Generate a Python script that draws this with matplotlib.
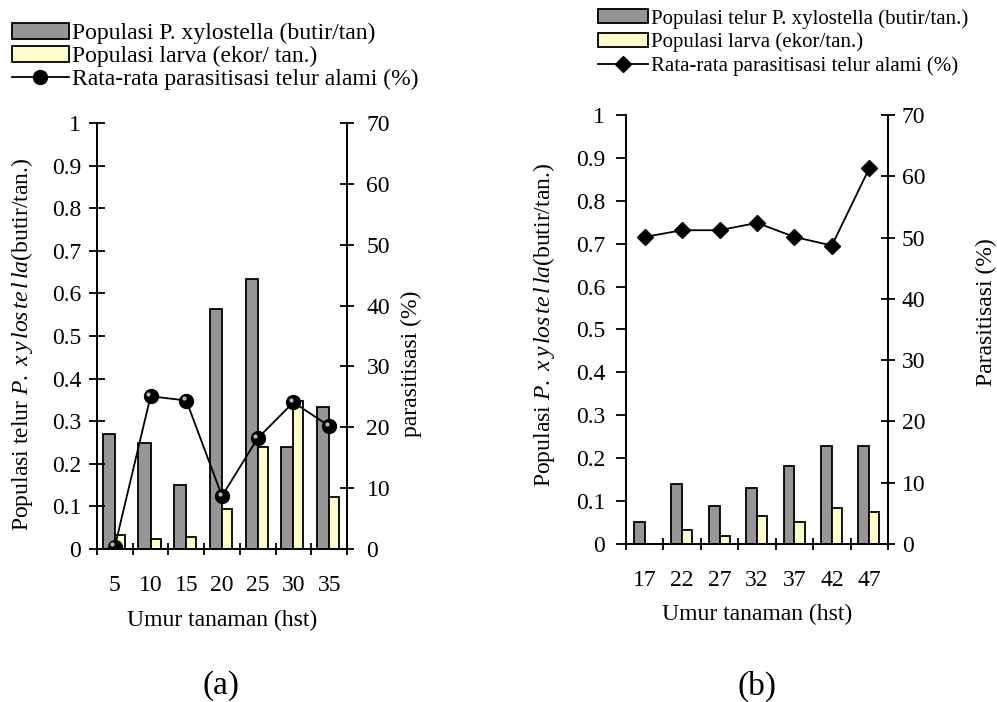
import matplotlib
matplotlib.use('Agg')
import matplotlib.pyplot as plt
import matplotlib.transforms as mtransforms
import numpy as np

plt.rcParams['font.family'] = 'Liberation Serif'
plt.rcParams['mathtext.fontset'] = 'custom'
plt.rcParams['mathtext.rm'] = 'Liberation Serif'
plt.rcParams['mathtext.it'] = 'Liberation Serif:italic'
plt.rcParams['font.size'] = 17

# panel (a)
umurA = ['5', '10', '15', '20', '25', '30', '35']
telurA = [0.27, 0.25, 0.15, 0.563, 0.633, 0.24, 0.334]
larvaA = [0.033, 0.023, 0.028, 0.095, 0.24, 0.347, 0.122]
parasA = [0.4, 25.1, 24.4, 8.7, 18.2, 24.1, 20.2]

# panel (b)
umurB = ['17', '22', '27', '32', '37', '42', '47']
telurB = [0.051, 0.140, 0.088, 0.131, 0.181, 0.228, 0.228]
larvaB = [0.0, 0.032, 0.018, 0.065, 0.051, 0.083, 0.074]
parasB = [50.1, 51.2, 51.2, 52.4, 50.1, 48.7, 61.3]

GRAY = '#969696'
YELLOW = '#FFFFCC'
W, H = 997, 702
FS = 17
# the pdf spreads the italic species name a bit
SPECIES = r'$\mathit{P.\ x\,y\,los\,te\,l\,la}$'


def px(x, y):
    # pixel position -> figure fraction
    return x / W, 1 - y / H


def drawPanel(fig, rect, umur, telur, larva, paras, marker, msize, grayW, yellowW,
              leftTick, rightPad):
    ax = fig.add_axes(rect)
    ax2 = ax.twinx()
    x = np.arange(len(umur))

    barTelur = ax.bar(x - grayW, telur, grayW, align='edge', color=GRAY,
                      edgecolor='black', linewidth=1.3)
    barLarva = ax.bar(x, larva, yellowW, align='edge', color=YELLOW,
                      edgecolor='black', linewidth=1.3)
    line, = ax2.plot(x, paras, color='black', linewidth=1.3, marker=marker,
                     markersize=msize, markerfacecolor='black', markeredgecolor='black')
    if marker == 'o':
        # little shine on the balls, like the excel marker
        shine = mtransforms.offset_copy(ax2.transData, fig=fig, x=-1.8, y=1.8,
                                        units='points')
        ax2.plot(x, paras, linestyle='none', marker='o', markersize=3,
                 markerfacecolor='#bbbbbb', markeredgecolor='none', transform=shine)

    ax.set_xlim(-0.5, len(umur) - 0.5)
    ax.set_ylim(0, 1)
    ax2.set_ylim(0, 70)
    ax.set_yticks(np.arange(0, 1.01, 0.1))
    ax.set_yticklabels(['0'] + ['%.1f' % v for v in np.arange(0.1, 0.95, 0.1)] + ['1'])
    ax2.set_yticks(np.arange(0, 71, 10))

    ax.set_xticks(x)
    ax.set_xticklabels(umur)
    ax.set_xticks(np.arange(len(umur) + 1) - 0.5, minor=True)
    ax.tick_params(axis='x', which='major', length=0, pad=19, labelsize=FS)
    ax.tick_params(axis='x', which='minor', direction='inout', length=9, width=1.3)
    ax.tick_params(axis='y', direction=leftTick[0], length=leftTick[1], width=1.3,
                   pad=leftTick[2], labelsize=FS)
    ax2.tick_params(axis='y', direction='inout', length=10, width=1.3, pad=rightPad,
                    labelsize=FS)

    for a in (ax, ax2):
        a.spines['top'].set_visible(False)
        for s in ('left', 'right', 'bottom'):
            a.spines[s].set_linewidth(1.3)
    return ax, ax2, barTelur, barLarva, line


def addLegend(ax, handles, labels, corner, size, spacing):
    ax.legend(handles, labels, loc='upper left', bbox_to_anchor=px(*corner),
              bbox_transform=ax.figure.transFigure, frameon=False, fontsize=size,
              handlelength=2.4, handleheight=0.65, handletextpad=0.15,
              labelspacing=spacing, borderpad=0, borderaxespad=0)


fig = plt.figure(figsize=(W / 100, H / 100), dpi=100)

# (a)
l, b = px(97, 549)
axA, axA2, bt, bl, ln = drawPanel(fig, [l, b, 250 / W, 426 / H], umurA, telurA, larvaA,
                                  parasA, 'o', 10, 0.34, 0.28, ('inout', 11, 6), 9)
addLegend(axA, [bt, bl, ln], ['Populasi P. xylostella (butir/tan)',
                              'Populasi larva (ekor/ tan.)',
                              'Rata-rata parasitisasi telur alami (%)'], (12, 23), FS, 0.07)
fig.text(*px(22, 344), 'Populasi telur ' + SPECIES + '(butir/tan.)',
         rotation=90, ha='center', va='center', fontsize=FS)
fig.text(*px(411, 364), 'parasitisasi (%)', rotation=90, ha='center', va='center',
         fontsize=FS)
fig.text(*px(222, 620), 'Umur tanaman (hst)', ha='center', va='center', fontsize=FS)
fig.text(*px(221, 686), '(a)', ha='center', va='center', fontsize=24)

# (b)
l, b = px(626, 544)
axB, axB2, bt, bl, ln = drawPanel(fig, [l, b, 262 / W, 429 / H], umurB, telurB, larvaB,
                                  parasB, 'D', 8, 0.29, 0.27, ('out', 7, 8), 5)
addLegend(axB, [bt, bl, ln], ['Populasi telur P. xylostella (butir/tan.)',
                              'Populasi larva (ekor/tan.)',
                              'Rata-rata parasitisasi telur alami (%)'], (598, 9), 15, 0.18)
fig.text(*px(544, 325), 'Populasi ' + SPECIES + '(butir/tan.)',
         rotation=90, ha='center', va='center', fontsize=FS)
fig.text(*px(986, 312), 'Parasitisasi (%)', rotation=90, ha='center', va='center',
         fontsize=FS)
fig.text(*px(757, 614), 'Umur tanaman (hst)', ha='center', va='center', fontsize=FS)
fig.text(*px(757, 686), '(b)', ha='center', va='center', fontsize=24)

fig.savefig('out.png', dpi=100)
